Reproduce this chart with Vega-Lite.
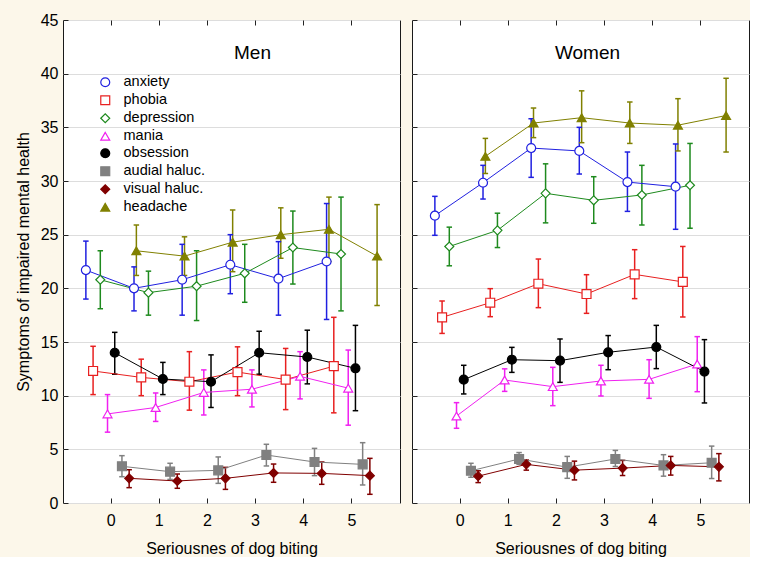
{
  "$schema": "https://vega.github.io/schema/vega-lite/v6.json",
  "background": "#FCF7EA",
  "padding": {"left": 14, "top": 11, "right": 0, "bottom": 0},
  "datasets": {
    "d": [
      {"sex":"Men","series":"anxiety","bite":0,"m":21.7,"lo":19.0,"hi":24.4},
      {"sex":"Men","series":"anxiety","bite":1,"m":20.0,"lo":17.9,"hi":22.0},
      {"sex":"Men","series":"anxiety","bite":2,"m":20.8,"lo":17.5,"hi":24.1},
      {"sex":"Men","series":"anxiety","bite":3,"m":22.2,"lo":19.5,"hi":25.0},
      {"sex":"Men","series":"anxiety","bite":4,"m":20.9,"lo":17.5,"hi":24.35},
      {"sex":"Men","series":"anxiety","bite":5,"m":22.5,"lo":17.1,"hi":27.9},
      {"sex":"Men","series":"phobia","bite":0,"m":12.3,"lo":10.1,"hi":14.6},
      {"sex":"Men","series":"phobia","bite":1,"m":11.7,"lo":10.0,"hi":13.4},
      {"sex":"Men","series":"phobia","bite":2,"m":11.3,"lo":8.65,"hi":14.1},
      {"sex":"Men","series":"phobia","bite":3,"m":12.2,"lo":10.0,"hi":14.55},
      {"sex":"Men","series":"phobia","bite":4,"m":11.5,"lo":8.7,"hi":14.4},
      {"sex":"Men","series":"phobia","bite":5,"m":12.75,"lo":8.4,"hi":17.3},
      {"sex":"Men","series":"depression","bite":0,"m":20.8,"lo":18.1,"hi":23.5},
      {"sex":"Men","series":"depression","bite":1,"m":19.6,"lo":17.5,"hi":21.6},
      {"sex":"Men","series":"depression","bite":2,"m":20.2,"lo":17.0,"hi":23.5},
      {"sex":"Men","series":"depression","bite":3,"m":21.4,"lo":18.7,"hi":24.1},
      {"sex":"Men","series":"depression","bite":4,"m":23.8,"lo":20.4,"hi":27.2},
      {"sex":"Men","series":"depression","bite":5,"m":23.2,"lo":17.9,"hi":28.5},
      {"sex":"Men","series":"mania","bite":0,"m":8.3,"lo":6.6,"hi":10.1},
      {"sex":"Men","series":"mania","bite":1,"m":8.9,"lo":7.6,"hi":10.25},
      {"sex":"Men","series":"mania","bite":2,"m":10.3,"lo":8.2,"hi":12.4},
      {"sex":"Men","series":"mania","bite":3,"m":10.6,"lo":8.95,"hi":12.4},
      {"sex":"Men","series":"mania","bite":4,"m":11.8,"lo":9.7,"hi":14.1},
      {"sex":"Men","series":"mania","bite":5,"m":10.7,"lo":7.25,"hi":14.25},
      {"sex":"Men","series":"obsession","bite":0,"m":14.0,"lo":12.0,"hi":15.9},
      {"sex":"Men","series":"obsession","bite":1,"m":11.55,"lo":10.1,"hi":13.1},
      {"sex":"Men","series":"obsession","bite":2,"m":11.3,"lo":8.9,"hi":13.8},
      {"sex":"Men","series":"obsession","bite":3,"m":14.0,"lo":12.0,"hi":16.0},
      {"sex":"Men","series":"obsession","bite":4,"m":13.6,"lo":11.1,"hi":16.1},
      {"sex":"Men","series":"obsession","bite":5,"m":12.55,"lo":8.6,"hi":16.55},
      {"sex":"Men","series":"audial haluc.","bite":0,"m":3.42,"lo":2.45,"hi":4.41},
      {"sex":"Men","series":"audial haluc.","bite":1,"m":2.92,"lo":2.2,"hi":3.7},
      {"sex":"Men","series":"audial haluc.","bite":2,"m":3.04,"lo":1.83,"hi":4.29},
      {"sex":"Men","series":"audial haluc.","bite":3,"m":4.47,"lo":3.45,"hi":5.47},
      {"sex":"Men","series":"audial haluc.","bite":4,"m":3.82,"lo":2.55,"hi":5.09},
      {"sex":"Men","series":"audial haluc.","bite":5,"m":3.6,"lo":1.68,"hi":5.62},
      {"sex":"Men","series":"visual haluc.","bite":0,"m":2.3,"lo":1.43,"hi":3.1},
      {"sex":"Men","series":"visual haluc.","bite":1,"m":2.05,"lo":1.37,"hi":2.7},
      {"sex":"Men","series":"visual haluc.","bite":2,"m":2.3,"lo":1.27,"hi":3.32},
      {"sex":"Men","series":"visual haluc.","bite":3,"m":2.8,"lo":1.93,"hi":3.63},
      {"sex":"Men","series":"visual haluc.","bite":4,"m":2.76,"lo":1.74,"hi":3.82},
      {"sex":"Men","series":"visual haluc.","bite":5,"m":2.55,"lo":0.81,"hi":4.16},
      {"sex":"Men","series":"headache","bite":0,"m":23.5,"lo":21.2,"hi":25.9},
      {"sex":"Men","series":"headache","bite":1,"m":23.0,"lo":21.2,"hi":24.8},
      {"sex":"Men","series":"headache","bite":2,"m":24.3,"lo":21.55,"hi":27.3},
      {"sex":"Men","series":"headache","bite":3,"m":25.0,"lo":22.8,"hi":27.5},
      {"sex":"Men","series":"headache","bite":4,"m":25.5,"lo":22.5,"hi":28.5},
      {"sex":"Men","series":"headache","bite":5,"m":23.0,"lo":18.4,"hi":27.8},
      {"sex":"Women","series":"anxiety","bite":0,"m":26.77,"lo":24.94,"hi":28.57},
      {"sex":"Women","series":"anxiety","bite":1,"m":29.84,"lo":28.32,"hi":31.46},
      {"sex":"Women","series":"anxiety","bite":2,"m":33.07,"lo":30.34,"hi":35.8},
      {"sex":"Women","series":"anxiety","bite":3,"m":32.8,"lo":30.65,"hi":35.0},
      {"sex":"Women","series":"anxiety","bite":4,"m":29.9,"lo":27.17,"hi":32.7},
      {"sex":"Women","series":"anxiety","bite":5,"m":29.47,"lo":25.5,"hi":33.45},
      {"sex":"Women","series":"phobia","bite":0,"m":17.3,"lo":15.8,"hi":18.82},
      {"sex":"Women","series":"phobia","bite":1,"m":18.66,"lo":17.36,"hi":19.97},
      {"sex":"Women","series":"phobia","bite":2,"m":20.43,"lo":18.2,"hi":22.73},
      {"sex":"Women","series":"phobia","bite":3,"m":19.47,"lo":17.67,"hi":21.27},
      {"sex":"Women","series":"phobia","bite":4,"m":21.3,"lo":19.04,"hi":23.6},
      {"sex":"Women","series":"phobia","bite":5,"m":20.6,"lo":17.33,"hi":23.9},
      {"sex":"Women","series":"depression","bite":0,"m":23.9,"lo":22.1,"hi":25.7},
      {"sex":"Women","series":"depression","bite":1,"m":25.4,"lo":23.8,"hi":27.0},
      {"sex":"Women","series":"depression","bite":2,"m":28.85,"lo":26.1,"hi":31.6},
      {"sex":"Women","series":"depression","bite":3,"m":28.2,"lo":26.06,"hi":30.4},
      {"sex":"Women","series":"depression","bite":4,"m":28.7,"lo":25.9,"hi":31.46},
      {"sex":"Women","series":"depression","bite":5,"m":29.6,"lo":25.6,"hi":33.5},
      {"sex":"Women","series":"mania","bite":0,"m":8.1,"lo":6.96,"hi":9.35},
      {"sex":"Women","series":"mania","bite":1,"m":11.46,"lo":10.4,"hi":12.5},
      {"sex":"Women","series":"mania","bite":2,"m":10.84,"lo":9.07,"hi":12.64},
      {"sex":"Women","series":"mania","bite":3,"m":11.37,"lo":9.97,"hi":12.83},
      {"sex":"Women","series":"mania","bite":4,"m":11.52,"lo":9.75,"hi":13.35},
      {"sex":"Women","series":"mania","bite":5,"m":12.95,"lo":10.37,"hi":15.5},
      {"sex":"Women","series":"obsession","bite":0,"m":11.49,"lo":10.16,"hi":12.83},
      {"sex":"Women","series":"obsession","bite":1,"m":13.35,"lo":12.17,"hi":14.5},
      {"sex":"Women","series":"obsession","bite":2,"m":13.26,"lo":11.24,"hi":15.28},
      {"sex":"Women","series":"obsession","bite":3,"m":14.04,"lo":12.42,"hi":15.6},
      {"sex":"Women","series":"obsession","bite":4,"m":14.53,"lo":12.52,"hi":16.55},
      {"sex":"Women","series":"obsession","bite":5,"m":12.24,"lo":9.32,"hi":15.22},
      {"sex":"Women","series":"audial haluc.","bite":0,"m":3.0,"lo":2.4,"hi":3.7},
      {"sex":"Women","series":"audial haluc.","bite":1,"m":4.1,"lo":3.6,"hi":4.7},
      {"sex":"Women","series":"audial haluc.","bite":2,"m":3.34,"lo":2.3,"hi":4.34},
      {"sex":"Women","series":"audial haluc.","bite":3,"m":4.1,"lo":3.4,"hi":4.9},
      {"sex":"Women","series":"audial haluc.","bite":4,"m":3.5,"lo":2.5,"hi":4.5},
      {"sex":"Women","series":"audial haluc.","bite":5,"m":3.75,"lo":2.28,"hi":5.3},
      {"sex":"Women","series":"visual haluc.","bite":0,"m":2.5,"lo":1.9,"hi":3.0},
      {"sex":"Women","series":"visual haluc.","bite":1,"m":3.6,"lo":3.06,"hi":4.0},
      {"sex":"Women","series":"visual haluc.","bite":2,"m":3.06,"lo":2.15,"hi":3.9},
      {"sex":"Women","series":"visual haluc.","bite":3,"m":3.25,"lo":2.56,"hi":3.97},
      {"sex":"Women","series":"visual haluc.","bite":4,"m":3.5,"lo":2.6,"hi":4.34},
      {"sex":"Women","series":"visual haluc.","bite":5,"m":3.37,"lo":2.06,"hi":4.6},
      {"sex":"Women","series":"headache","bite":0,"m":32.3,"lo":30.7,"hi":33.97},
      {"sex":"Women","series":"headache","bite":1,"m":35.4,"lo":34.04,"hi":36.8},
      {"sex":"Women","series":"headache","bite":2,"m":35.9,"lo":33.57,"hi":38.4},
      {"sex":"Women","series":"headache","bite":3,"m":35.4,"lo":33.5,"hi":37.36},
      {"sex":"Women","series":"headache","bite":4,"m":35.2,"lo":32.8,"hi":37.67},
      {"sex":"Women","series":"headache","bite":5,"m":36.1,"lo":32.7,"hi":39.57}
    ]
  },
  "data": {"name": "d"},
  "spacing": 10,
  "hconcat": [
    {
      "width": 337, "height": 483,
      "title": {"text": "Men", "offset": -51, "dx": 21, "frame": "group"},
      "transform": [{"filter": "datum.sex === 'Men'"}],
      "encoding": {
        "xOffset": {"field": "series", "type": "nominal", "scale": {"type": "point", "padding": 0, "range": [-1.2, 49.3], "domain": ["anxiety","phobia","depression","mania","obsession","audial haluc.","visual haluc.","headache"]}},
        "stroke": {"field": "series", "type": "nominal", "title": null, "scale": {"domain": ["anxiety","phobia","depression","mania","obsession","audial haluc.","visual haluc.","headache"], "range": ["#2020E0","#E82020","#1E8A1E","#F020F0","#000000","#808080","#800000","#808000"]}}
      },
      "resolve": {"axis": {"x": "independent"}},
      "layer": [
        {
          "mark": {"type": "rule", "strokeWidth": 1.5},
          "encoding": {
            "x": {"field": "bite", "type": "ordinal", "scale": {"paddingInner": 0, "paddingOuter": 0.5}, "axis": {"title": "Seriousnes of dog biting", "labelAngle": 0, "grid": false}},
            "y": {"field": "lo", "type": "quantitative", "scale": {"domain": [0, 45], "nice": false}, "axis": {"values": [0,5,10,15,20,25,30,35,40,45], "title": "Symptoms of impaired mental health", "grid": true}},
            "y2": {"field": "hi"}
          }
        },
        {
          "mark": {"type": "point", "shape": "stroke", "size": 30, "strokeWidth": 1.5, "opacity": 1, "filled": false},
          "encoding": {
            "x": {"field": "bite", "type": "ordinal", "axis": {"orient": "top", "labels": false, "title": null, "grid": false}},
            "y": {"field": "lo", "type": "quantitative", "axis": {"values": [0,5,10,15,20,25,30,35,40,45], "title": "Symptoms of impaired mental health", "grid": true}}
          }
        },
        {
          "mark": {"type": "point", "shape": "stroke", "size": 30, "strokeWidth": 1.5, "opacity": 1, "filled": false},
          "encoding": {
            "x": {"field": "bite", "type": "ordinal", "axis": null},
            "y": {"field": "hi", "type": "quantitative", "axis": {"values": [0,5,10,15,20,25,30,35,40,45], "title": "Symptoms of impaired mental health", "grid": true}}
          }
        },
        {
          "mark": {"type": "line", "strokeWidth": 1},
          "encoding": {
            "x": {"field": "bite", "type": "ordinal", "axis": null},
            "y": {"field": "m", "type": "quantitative", "axis": {"values": [0,5,10,15,20,25,30,35,40,45], "title": "Symptoms of impaired mental health", "grid": true}}
          }
        },
        {
          "mark": {"type": "point", "opacity": 1, "filled": true, "strokeWidth": 1.2},
          "encoding": {
            "x": {"field": "bite", "type": "ordinal", "axis": null},
            "y": {"field": "m", "type": "quantitative", "axis": {"values": [0,5,10,15,20,25,30,35,40,45], "title": "Symptoms of impaired mental health", "grid": true}},
            "shape": {"field": "series", "type": "nominal", "title": null, "scale": {"domain": ["anxiety","phobia","depression","mania","obsession","audial haluc.","visual haluc.","headache"], "range": ["circle","square","diamond","triangle-up","circle","square","diamond","triangle-up"]}},
            "fill": {"field": "series", "type": "nominal", "title": null, "scale": {"domain": ["anxiety","phobia","depression","mania","obsession","audial haluc.","visual haluc.","headache"], "range": ["#FFFFFF","#FFFFFF","#FFFFFF","#FFFFFF","#000000","#808080","#800000","#808000"]}},
            "size": {"field": "series", "type": "ordinal", "title": null, "scale": {"domain": ["anxiety","phobia","depression","mania","obsession","audial haluc.","visual haluc.","headache"], "range": [80, 80, 45, 80, 100, 100, 55, 90]}}
          }
        }
      ]
    },
    {
      "width": 337, "height": 483,
      "title": {"text": "Women", "offset": -43, "dx": 7, "frame": "group"},
      "transform": [{"filter": "datum.sex === 'Women'"}],
      "encoding": {
        "xOffset": {"field": "series", "type": "nominal", "scale": {"type": "point", "padding": 0, "range": [-1.2, 49.3], "domain": ["anxiety","phobia","depression","mania","obsession","audial haluc.","visual haluc.","headache"]}},
        "stroke": {"field": "series", "type": "nominal", "title": null, "scale": {"domain": ["anxiety","phobia","depression","mania","obsession","audial haluc.","visual haluc.","headache"], "range": ["#2020E0","#E82020","#1E8A1E","#F020F0","#000000","#808080","#800000","#808000"]}}
      },
      "resolve": {"axis": {"x": "independent"}},
      "layer": [
        {
          "mark": {"type": "rule", "strokeWidth": 1.5},
          "encoding": {
            "x": {"field": "bite", "type": "ordinal", "scale": {"paddingInner": 0, "paddingOuter": 0.5}, "axis": {"title": "Seriousnes of dog biting", "labelAngle": 0, "grid": false}},
            "y": {"field": "lo", "type": "quantitative", "scale": {"domain": [0, 45], "nice": false}, "axis": {"values": [0,5,10,15,20,25,30,35,40,45], "title": null, "labels": false, "grid": true}},
            "y2": {"field": "hi"}
          }
        },
        {
          "mark": {"type": "point", "shape": "stroke", "size": 30, "strokeWidth": 1.5, "opacity": 1, "filled": false},
          "encoding": {
            "x": {"field": "bite", "type": "ordinal", "axis": {"orient": "top", "labels": false, "title": null, "grid": false}},
            "y": {"field": "lo", "type": "quantitative", "axis": {"values": [0,5,10,15,20,25,30,35,40,45], "title": null, "labels": false, "grid": true}}
          }
        },
        {
          "mark": {"type": "point", "shape": "stroke", "size": 30, "strokeWidth": 1.5, "opacity": 1, "filled": false},
          "encoding": {
            "x": {"field": "bite", "type": "ordinal", "axis": null},
            "y": {"field": "hi", "type": "quantitative", "axis": {"values": [0,5,10,15,20,25,30,35,40,45], "title": null, "labels": false, "grid": true}}
          }
        },
        {
          "mark": {"type": "line", "strokeWidth": 1},
          "encoding": {
            "x": {"field": "bite", "type": "ordinal", "axis": null},
            "y": {"field": "m", "type": "quantitative", "axis": {"values": [0,5,10,15,20,25,30,35,40,45], "title": null, "labels": false, "grid": true}}
          }
        },
        {
          "mark": {"type": "point", "opacity": 1, "filled": true, "strokeWidth": 1.2},
          "encoding": {
            "x": {"field": "bite", "type": "ordinal", "axis": null},
            "y": {"field": "m", "type": "quantitative", "axis": {"values": [0,5,10,15,20,25,30,35,40,45], "title": null, "labels": false, "grid": true}},
            "shape": {"field": "series", "type": "nominal", "title": null, "scale": {"domain": ["anxiety","phobia","depression","mania","obsession","audial haluc.","visual haluc.","headache"], "range": ["circle","square","diamond","triangle-up","circle","square","diamond","triangle-up"]}},
            "fill": {"field": "series", "type": "nominal", "title": null, "scale": {"domain": ["anxiety","phobia","depression","mania","obsession","audial haluc.","visual haluc.","headache"], "range": ["#FFFFFF","#FFFFFF","#FFFFFF","#FFFFFF","#000000","#808080","#800000","#808000"]}},
            "size": {"field": "series", "type": "ordinal", "title": null, "scale": {"domain": ["anxiety","phobia","depression","mania","obsession","audial haluc.","visual haluc.","headache"], "range": [80, 80, 45, 80, 100, 100, 55, 90]}}
          }
        }
      ]
    }
  ],
  "config": {
    "font": "Liberation Sans",
    "view": {"fill": "#FFFFFF", "stroke": "#1A1A1A", "strokeWidth": 1},
    "axis": {"labelFontSize": 16, "titleFontSize": 16, "titleFontWeight": "normal", "labelColor": "#000000", "titleColor": "#000000", "tickColor": "#222222", "domain": false, "gridColor": "#DDDDDD", "tickSize": -5, "labelPadding": 10, "titlePadding": 9},
    "axisX": {"labelPadding": 14, "titlePadding": 12},
    "title": {"fontSize": 19, "fontWeight": "normal", "color": "#000000", "anchor": "middle"},
    "legend": {"orient": "none", "legendX": 35, "legendY": 55, "labelFontSize": 14.5, "labelColor": "#000000", "rowPadding": 2, "labelOffset": 11, "symbolStrokeWidth": 1.2, "symbolOpacity": 1}
  }
}
